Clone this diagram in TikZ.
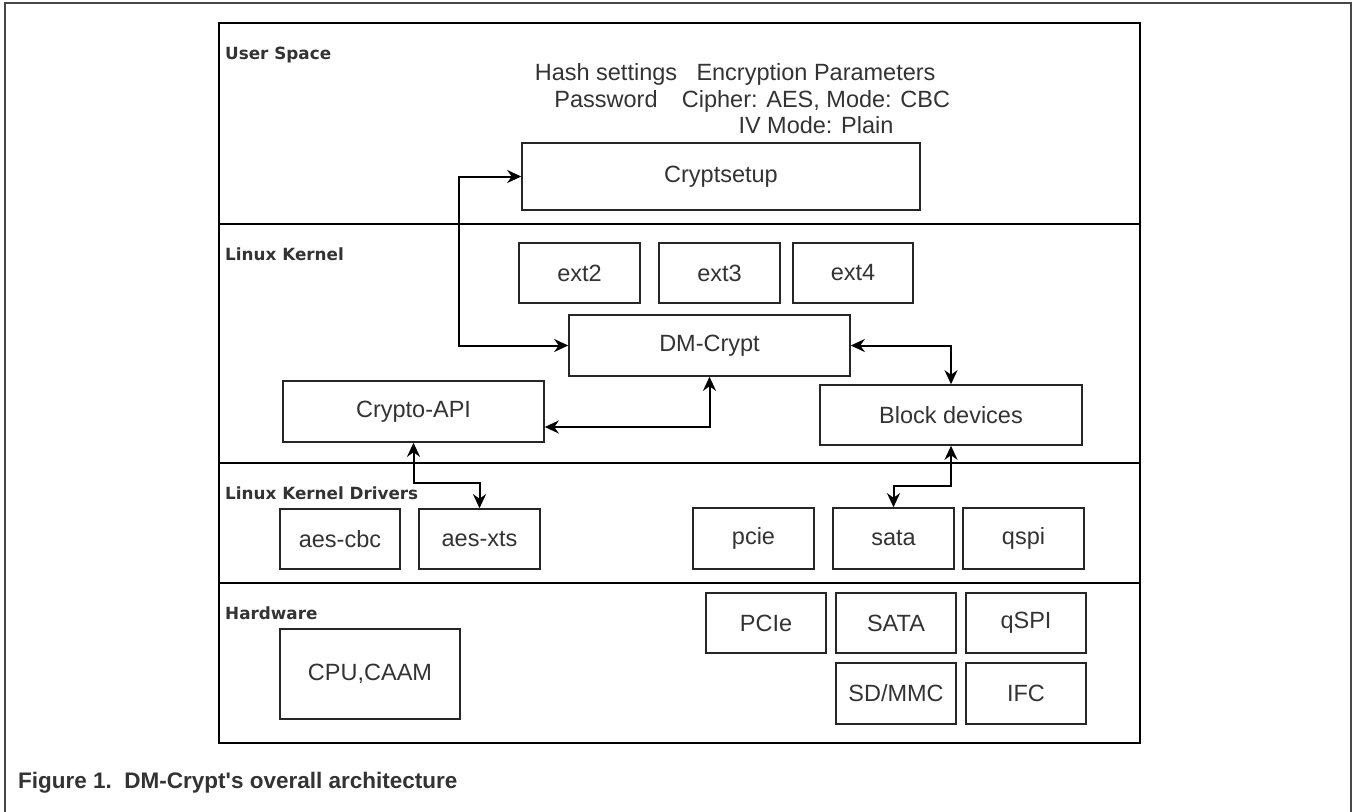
\documentclass[tikz,border=0pt]{standalone}
\usepackage{fontspec}
\setmainfont{Liberation Sans}
\newfontfamily\layerfont{DejaVu Sans}
\newfontfamily\capfont[Ligatures=TeXOff]{Liberation Sans}
\usetikzlibrary{arrows.meta,calc}
\definecolor{ink}{HTML}{333333}
\definecolor{edge}{HTML}{262626}
\definecolor{outer}{HTML}{474747}
\begin{document}
\begin{tikzpicture}[x=1pt,y=-1pt,
  box/.style={draw=edge, line width=1.6pt, text=ink, inner sep=0pt,
    font=\fontsize{23.5}{28}\selectfont},
  layer/.style={text=ink, inner sep=0pt, anchor=base west,
    font=\layerfont\bfseries\fontsize{16.8}{20}\selectfont},
  note/.style={text=ink, inner sep=0pt, anchor=base,
    font=\fontsize{23.5}{28}\selectfont},
  tip/.tip={Stealth[length=14pt,width=13pt,inset=4.5pt]},
  link/.style={line width=2pt, black, tip-tip},
]
\useasboundingbox (0,0) rectangle (1354,811);

% page frame (open at the bottom)
\draw[outer, line width=2.5pt] (5,820) -- (5,3) -- (1351,3) -- (1351,820);

% layer frame and separators
\draw[black, line width=2pt] (219,23) rectangle (1140,743);
\foreach \yy in {224,463,583}
  \draw[black, line width=1.6pt] (219,\yy) -- (1140,\yy);

% layer titles
\node[layer] (lus)  at (225,59)  {User Space};
\node[layer] (llk)  at (225,260) {Linux Kernel};
\node[layer] (lkd)  at (225,499) {Linux Kernel Drivers};
\node[layer] (lhw)  at (225,619) {Hardware};

% user space
\node[note] (hs1) at (606,80)    {Hash settings};
\node[note] (hs2) at (606,107)   {Password};
\node[note] (ep1) at (816,80)    {Encryption Parameters};
\node[note] (ep2) at (816,107)   {Cipher: AES, Mode: CBC};
\node[note] (ep3) at (816,133.5) {IV Mode: Plain};
\node[box, minimum width=398pt, minimum height=67pt] (cs) at (721,176.5) {Cryptsetup};

% kernel
\node[box, minimum width=121pt, minimum height=60pt] (ext2) at (579.5,273) {ext2};
\node[box, minimum width=121pt, minimum height=60pt] (ext3) at (719.5,273) {ext3};
\node[box, minimum width=120pt, minimum height=60pt] (ext4) at (853,273)   {ext4};
\node[box, minimum width=281pt, minimum height=61pt] (dm)   at (709.5,345.5) {DM-Crypt};
\node[box, minimum width=261pt, minimum height=61pt] (api)  at (413.5,411.5) {Crypto-API};
\node[box, minimum width=262pt, minimum height=60pt] (bd)   at (951,415)     {Block devices};

% drivers
\node[box, minimum width=120pt, minimum height=60pt] (cbc)  at (340,539)    {aes-cbc};
\node[box, minimum width=121pt, minimum height=60pt] (xts)  at (479.5,539)  {aes-xts};
\node[box, minimum width=121pt, minimum height=61pt] (pcie) at (753.5,538.5) {pcie};
\node[box, minimum width=121pt, minimum height=61pt] (sata) at (893.5,538.5) {sata};
\node[box, minimum width=121pt, minimum height=61pt] (qspi) at (1023.5,538.5) {qspi};

% hardware
\node[box, minimum width=180pt, minimum height=90pt] (cpu)   at (370,674)   {CPU,CAAM};
\node[box, minimum width=120pt, minimum height=60pt] (hpcie) at (766,623)   {PCIe};
\node[box, minimum width=120pt, minimum height=60pt] (hsata) at (896,623)   {SATA};
\node[box, minimum width=120pt, minimum height=60pt] (hqspi) at (1026,623)  {qSPI};
\node[box, minimum width=120pt, minimum height=61pt] (hsd)   at (896,693.5) {SD/MMC};
\node[box, minimum width=120pt, minimum height=61pt] (hifc)  at (1026,693.5) {IFC};

% connectors
\draw[link] (cs.west) -- ++(-62,0) |- (dm.west);
\draw[link] (dm.east) -| (bd.north);
\draw[link] ($(api.east)+(0,15.5)$) -| (dm.south);
\draw[link] (api.south) -- ++(0,40) -| (xts.north);
\draw[link] (bd.south) -- ++(0,40) -| (sata.north);

% caption
\node[text=ink, inner sep=0pt, anchor=base west,
  font=\capfont\bfseries\fontsize{22.5}{27}\selectfont] (cap) at (18,788)
  {Figure 1.\ \ DM-Crypt's overall architecture};
\end{tikzpicture}
\end{document}
